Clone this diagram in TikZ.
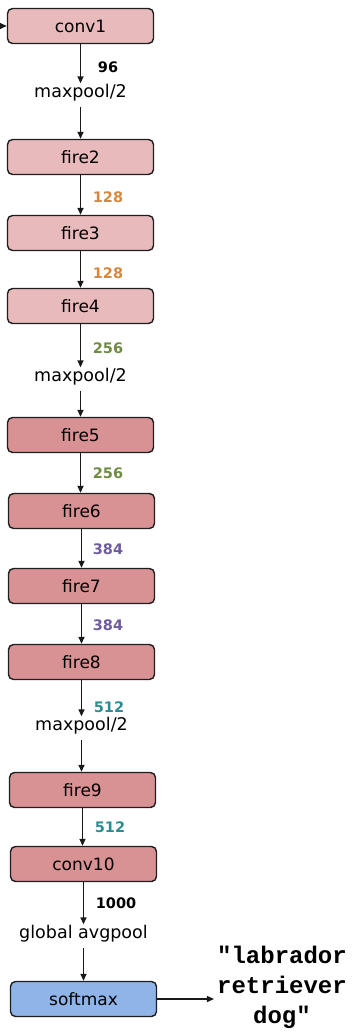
\documentclass[tikz,border=0pt]{standalone}
\usepackage{fontspec}
\setmainfont{DejaVu Sans}
\newfontfamily\codefont{Liberation Mono}
\usetikzlibrary{arrows.meta}
\definecolor{firelight}{RGB}{233,186,188}
\definecolor{firedark}{RGB}{217,146,148}
\definecolor{softblue}{RGB}{143,181,232}
\definecolor{edgegray}{RGB}{30,30,30}
\definecolor{cOrange}{RGB}{214,136,62}
\definecolor{cGreen}{RGB}{112,140,66}
\definecolor{cPurple}{RGB}{110,92,158}
\definecolor{cTeal}{RGB}{44,140,146}
\tikzset{
  layer/.style={draw=edgegray, line width=1.4pt, rounded corners=5pt,
    minimum width=146pt, minimum height=35pt, inner sep=0pt,
    font=\fontsize{17}{19}\selectfont},
  light/.style={layer, fill=firelight},
  dark/.style={layer, fill=firedark},
  blue/.style={layer, fill=softblue},
  arr/.style={line width=1.4pt, draw=black!90, -{Triangle[length=7pt,width=6pt]}},
  chan/.style={font=\fontsize{14.5}{16}\selectfont\bfseries, inner sep=0pt},
  op/.style={font=\fontsize{17.5}{19}\selectfont, inner sep=1pt},
}
\begin{document}
\begin{tikzpicture}[x=1pt,y=-1pt]
\useasboundingbox (0,0) rectangle (352,1035);

% layers
\node[light] (conv1)  at (80.5,26)  {conv1};
\node[light] (fire2)  at (80.5,157) {fire2};
\node[light] (fire3)  at (80.5,233) {fire3};
\node[light] (fire4)  at (80.5,306) {fire4};
\node[dark]  (fire5)  at (80.5,435) {fire5};
\node[dark]  (fire6)  at (81.5,511) {fire6};
\node[dark]  (fire7)  at (81.5,586) {fire7};
\node[dark]  (fire8)  at (81.5,662) {fire8};
\node[dark]  (fire9)  at (82.5,790) {fire9};
\node[dark]  (conv10) at (83.5,864) {conv10};
\node[blue]  (softmax) at (83.5,999) {softmax};

% pooling steps
\node[op] (mp1) at (80.5,93)  {maxpool/2};
\node[op] (mp2) at (80.5,377) {maxpool/2};
\node[op] (mp3) at (81.5,726) {maxpool/2};
\node[op] (gap) at (83.5,934) {global avgpool};

% output label
\node[font=\codefont\bfseries\fontsize{24}{30}\selectfont, align=center, inner sep=0pt]
  (out) at (282,987) {"labrador\\retriever\\dog"};

% input arrow
\coordinate (in) at (0,26);
\draw[arr] (in) -- (conv1.west);

% data flow
\draw[arr] (conv1.south) -- (mp1.north);
\draw[arr] ([yshift=-4pt]mp1.south) -- (fire2.north);
\draw[arr] (fire2) -- (fire3);
\draw[arr] (fire3.south) -- (fire3.south |- fire4.north);
\draw[arr] (fire4.south) -- (mp2.north);
\draw[arr] ([yshift=-4pt]mp2.south) -- (fire5.north);
\draw[arr] (fire5.south) -- (fire5.south |- fire6.north);
\draw[arr] (fire6.south) -- (fire6.south |- fire7.north);
\draw[arr] (fire7.south) -- (fire7.south |- fire8.north);
\draw[arr] (fire8.south) -- (fire8.south |- mp3.north);
\draw[arr] ([yshift=-4pt]mp3.south) -- (mp3.south |- fire9.north);
\draw[arr] (fire9.south) -- (fire9.south |- conv10.north);
\draw[arr] (conv10.south) -- (conv10.south |- gap.north);
\draw[arr] ([yshift=-4pt]gap.south) -- (softmax.north);
\draw[arr] (softmax.east) -- ([xshift=-3pt]out.west |- softmax.east);

% channel counts
\node[chan]               (c96)   at (108,67)  {96};
\node[chan, text=cOrange] (c128a) at (108,197) {128};
\node[chan, text=cOrange] (c128b) at (108,273) {128};
\node[chan, text=cGreen]  (c256a) at (108,348) {256};
\node[chan, text=cGreen]  (c256b) at (108,473) {256};
\node[chan, text=cPurple] (c384a) at (108,549) {384};
\node[chan, text=cPurple] (c384b) at (108,625) {384};
\node[chan, text=cTeal]   (c512a) at (109,707) {512};
\node[chan, text=cTeal]   (c512b) at (110,827) {512};
\node[chan]               (c1000) at (116,903) {1000};
\end{tikzpicture}
\end{document}
